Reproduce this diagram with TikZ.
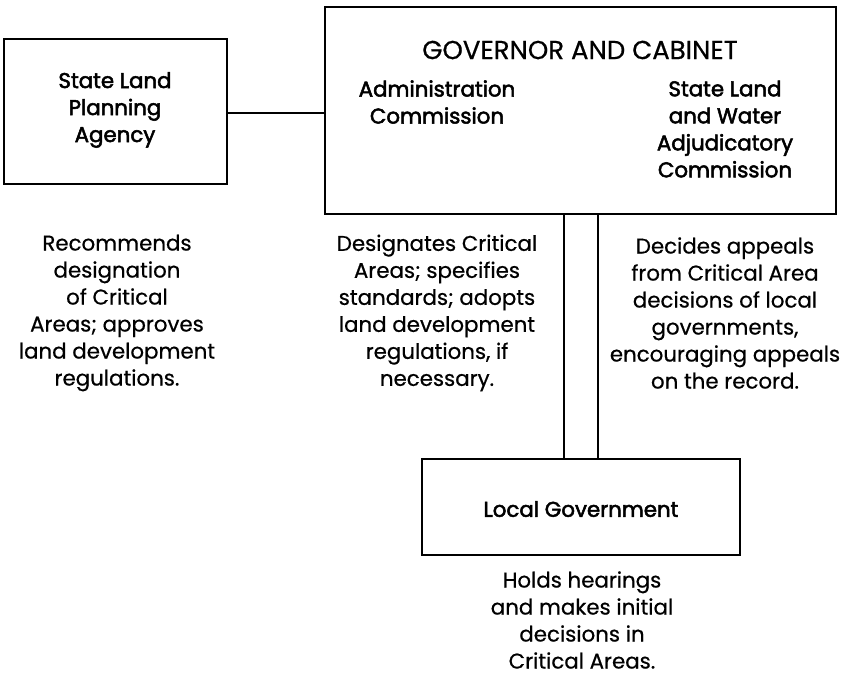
\documentclass[tikz,border=0pt]{standalone}
\usepackage{fontspec}
\setmainfont{Poppins}
\newfontfamily\boxfont{Poppins}[FakeBold=2.4]
\newfontfamily\dutyfont{Poppins}[FakeBold=0.6]
\usetikzlibrary{positioning}

\tikzset{
    orgbox/.style={draw, line width=1.7pt},
    boxtext/.style={align=center, inner sep=0pt, font=\boxfont\fontsize{16}{20.25}\selectfont},
    titletext/.style={inner sep=0pt, font=\dutyfont\fontsize{19.5}{22}\selectfont},
    dutytext/.style={align=center, inner sep=0pt, font=\dutyfont\fontsize{16}{20.25}\selectfont},
    link/.style={line width=1.7pt}
}

\begin{document}
\begin{tikzpicture}[x=0.75pt, y=-0.75pt]
    \useasboundingbox (0,0) rectangle (843,676);

    % Boxes
    \draw[orgbox] (4,39) rectangle (227,184);
    \draw[orgbox] (325,7) rectangle (836,214);
    \draw[orgbox] (422,459) rectangle (740,555);

    % Box anchors
    \coordinate (slpaE) at (227,113);
    \coordinate (govW) at (325,113);
    \coordinate (govS1) at (564,214);
    \coordinate (govS2) at (598,214);
    \coordinate (localN1) at (564,459);
    \coordinate (localN2) at (598,459);

    % Box texts
    \node[boxtext] (slpa) at (115,110) {State Land\\Planning\\Agency};
    \node[titletext] (gov) at (580,50) {GOVERNOR AND CABINET};
    \node[boxtext] (admin) at (437,102) {Administration\\Commission};
    \node[boxtext] (adjud) at (725,129) {State Land\\and Water\\Adjudicatory\\Commission};
    \node[boxtext] (local) at (581,509) {Local Government};

    % Connectors
    \draw[link] (slpaE) -- (govW);
    \draw[link] (govS1) -- (localN1);
    \draw[link] (govS2) -- (localN2);

    % Duties
    \node[dutytext] (recommend) at (117,313) {Recommends\\designation\\of Critical\\Areas; approves\\land development\\regulations.};
    \node[dutytext] (designate) at (437,313) {Designates Critical\\Areas; specifies\\standards; adopts\\land development\\regulations, if\\necessary.};
    \node[dutytext] (decide) at (725,313) {Decides appeals\\from Critical Area\\decisions of local\\governments,\\encouraging appeals\\on the record.};
    \node[dutytext] (hold) at (582,620) {Holds hearings\\and makes initial\\decisions in\\Critical Areas.};
\end{tikzpicture}
\end{document}
